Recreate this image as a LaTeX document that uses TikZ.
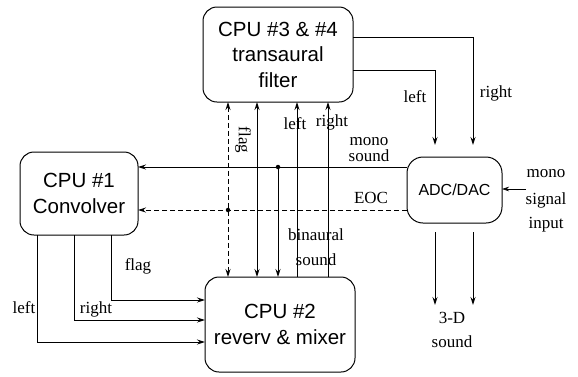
\documentclass[tikz,border=0pt]{standalone}
\usepackage{fontspec}
\setmainfont{Liberation Serif}
\newfontfamily\boxfont{Liberation Sans}
\usetikzlibrary{arrows.meta}
\begin{document}
\begin{tikzpicture}[x=1pt,y=-1pt,
  every node/.style={inner sep=0pt,outer sep=0pt},
  blk/.style={draw,line width=1pt,rounded corners=14pt,align=center,font=\boxfont\fontsize{20.5}{25.5}\selectfont},
  lbl/.style={font=\fontsize{17}{17}\selectfont,align=center},
  wire/.style={line width=1pt},
  arr/.style={wire,-{Stealth[length=8pt,width=5pt]}},
  arrb/.style={wire,{Stealth[length=8pt,width=5pt]}-{Stealth[length=8pt,width=5pt]}},
  dsh/.style={dash pattern=on 5pt off 3pt},
  dot/.style={circle,fill,minimum size=4.5pt}
]
\useasboundingbox (0,0) rectangle (578,376);
% blocks
\node[blk,minimum width=150pt,minimum height=95pt] (cpu3) at (278,54.5) {CPU \#3 \& \#4\\transaural\\filter};
\node[blk,minimum width=118pt,minimum height=83pt] (cpu1) at (79,193.5) {CPU \#1\\Convolver};
\node[blk,minimum width=150pt,minimum height=95pt] (cpu2) at (280,324.5) {CPU \#2\\reverv \& mixer};
\node[blk,minimum width=95pt,minimum height=66pt,rounded corners=16pt,font=\boxfont\fontsize{16}{18}\selectfont] (adc) at (454.5,190) {ADC/DAC};
% helper coordinates
\coordinate (cA) at (228,0);
\coordinate (cB) at (257,0);
\coordinate (cC) at (278,0);
\coordinate (cD) at (297,0);
\coordinate (cE) at (328,0);
\coordinate (cL) at (435,0);
\coordinate (cR) at (473,0);
\coordinate (c1) at (37,0);
\coordinate (c2) at (74,0);
\coordinate (c3) at (111,0);
\coordinate (rTop) at (0,37);
\coordinate (rLow) at (0,70);
\coordinate (rMono) at (0,167);
\coordinate (rEOC) at (0,210);
\coordinate (rOut) at (0,305);
\coordinate (rIn) at (0,189);
\coordinate (sIn) at (526,0);
\coordinate (r1) at (0,342);
\coordinate (r2) at (0,320);
\coordinate (r3) at (0,300);
% vertical links between cpu3 and cpu2
\draw[arrb,dsh] (cA |- cpu3.south) -- (cA |- cpu2.north);
\draw[arrb] (cB |- cpu3.south) -- (cB |- cpu2.north);
\draw[arr] (cD |- cpu2.north) -- (cD |- cpu3.south);
\draw[arr] (cE |- cpu2.north) -- (cE |- cpu3.south);
% mono sound and EOC
\draw[arr] (adc.west |- rMono) -- (cpu1.east |- rMono);
\draw[arr,dsh] (adc.west |- rEOC) -- (cpu1.east |- rEOC);
\node[dot] (d1) at (cC |- rMono) {};
\node[dot] (d2) at (cA |- rEOC) {};
\draw[arr] (d1.center) -- (cC |- cpu2.north);
% cpu3 outputs to adc
\draw[arr,shorten >=12pt] (cpu3.east |- rTop) -| (cR |- adc.north);
\draw[arr,shorten >=12pt] (cpu3.east |- rLow) -| (cL |- adc.north);
% adc outputs
\draw[arr,shorten <=9pt] (cL |- adc.south) -- (cL |- rOut);
\draw[arr,shorten <=9pt] (cR |- adc.south) -- (cR |- rOut);
% mono signal input
\draw[line width=0.6pt,-{Stealth[length=7pt,width=4.5pt]}] (sIn |- rIn) -- (adc.east |- rIn);
% cpu1 outputs to cpu2
\draw[arr] (c1 |- cpu1.south) |- (cpu2.west |- r1);
\draw[arr] (c2 |- cpu1.south) |- (cpu2.west |- r2);
\draw[arr] (c3 |- cpu1.south) |- (cpu2.west |- r3);
% labels
\node[lbl] (l1) at (24,308) {left};
\node[lbl] (l2) at (96,309) {right};
\node[lbl] (l3) at (138,266) {flag};
\node[lbl,rotate=-90] (l4) at (243,140) {flag};
\node[lbl] (l5) at (295,124) {left};
\node[lbl] (l6) at (332,122) {right};
\node[lbl,font=\fontsize{17}{16}\selectfont] (l7) at (369,150) {mono\\sound};
\node[lbl] (l8) at (371,198) {EOC};
\node[lbl] (l9) at (316,235) {binaural};
\node[lbl] (l10) at (316,260) {sound};
\node[lbl] (l11) at (415,97) {left};
\node[lbl] (l12) at (496,93) {right};
\node[lbl] (l13) at (452,318) {3-D};
\node[lbl] (l14) at (452,342) {sound};
\node[lbl] (l15) at (546,174) {mono};
\node[lbl] (l16) at (546,200) {signal};
\node[lbl] (l17) at (546,225) {input};
\end{tikzpicture}
\end{document}
